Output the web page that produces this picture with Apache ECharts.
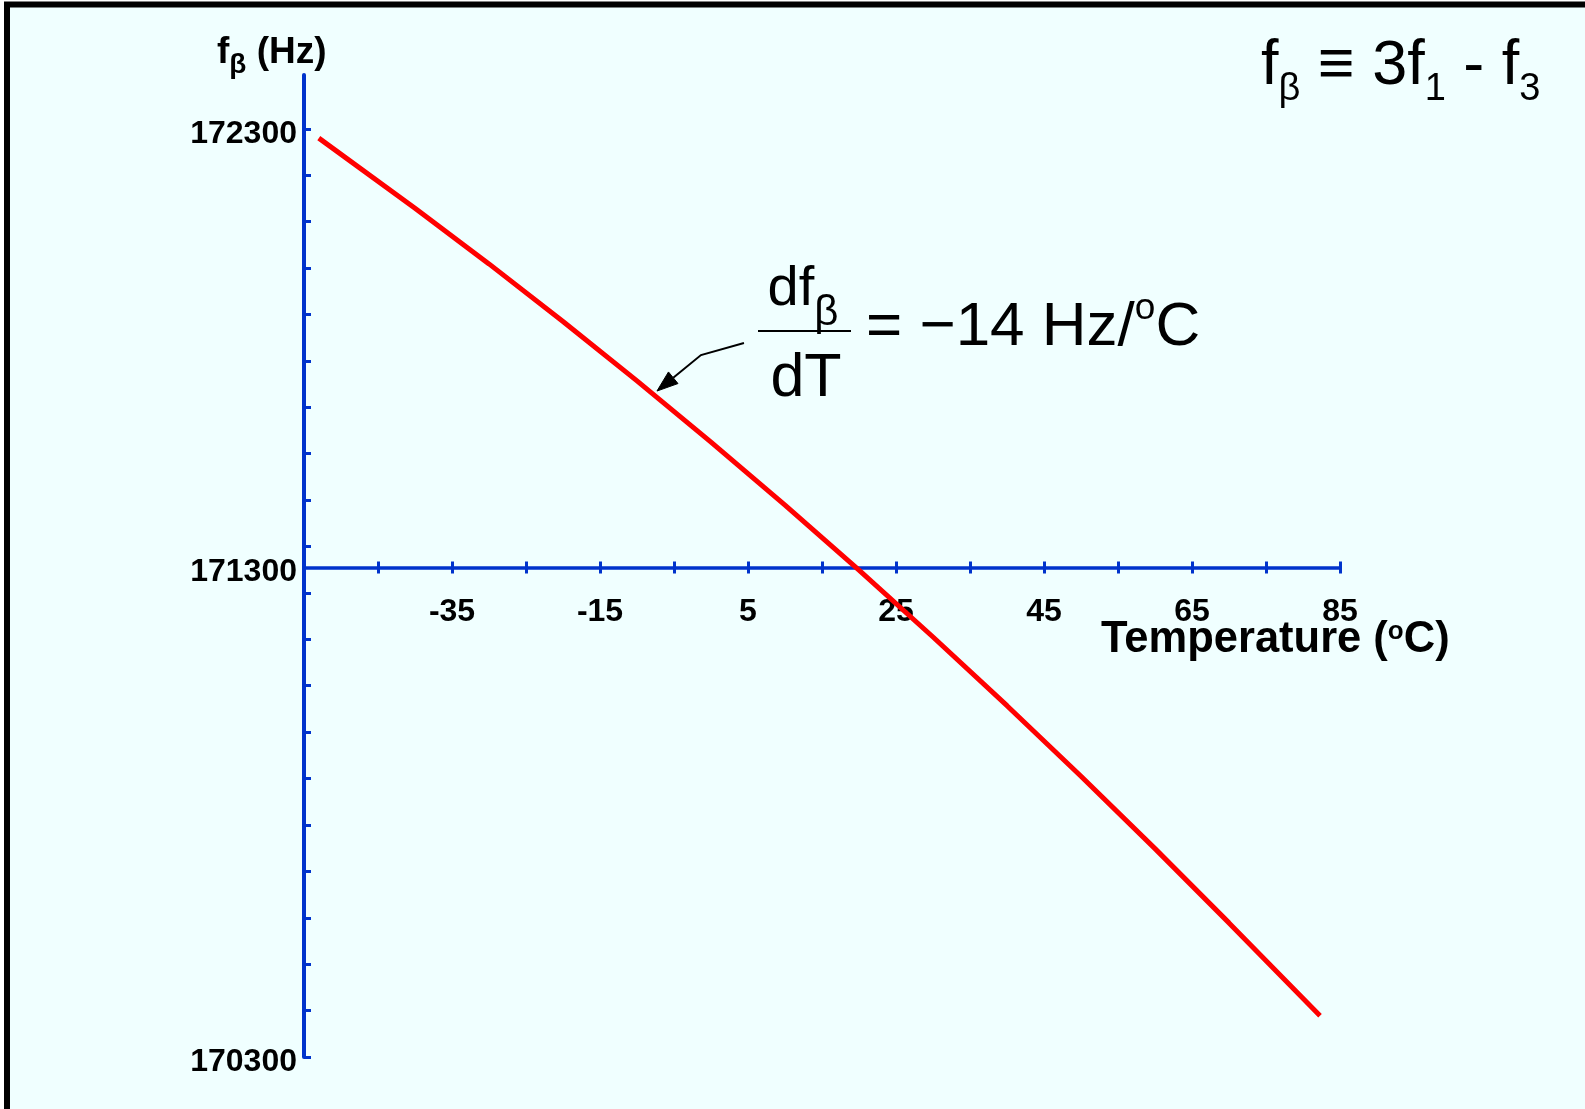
<!DOCTYPE html>
<html><head><meta charset="utf-8">
<script src="https://cdn.jsdelivr.net/npm/echarts@6/dist/echarts.min.js"></script>
<style>html,body{margin:0;padding:0;background:#fff}#c{width:1585px;height:1109px}</style>
</head><body><div id="c"></div>
<script>
// ---- data ----
const TEMPS  = [-53, -40, -30, -20, -10, 0, 10, 20, 30, 40, 50, 60, 70, 82.3];
const F_BETA = [172280, 172129, 172009, 171885, 171757, 171625, 171489, 171349, 171205, 171057, 170905, 170749, 170589, 170389];
const X_TICKS  = [-55, -45, -35, -25, -15, -5, 5, 15, 25, 35, 45, 55, 65, 75, 85];
const X_LABELS = [-35, -15, 5, 25, 45, 65, 85];
const Y_TICKS  = [170300, 170400, 170500, 170600, 170700, 170800, 170900, 171000, 171100, 171200,
                  171300, 171400, 171500, 171600, 171700, 171800, 171900, 172000, 172100, 172200, 172300];
const AXIS_CROSS = 171355;            // value where the temperature axis crosses
const Y_LABEL_VALUES = [170300, AXIS_CROSS, 172300];
const Y_LABEL_TEXT   = ['170300', '171300', '172300'];
const ARROW_TARGET = [-7.3, 171735];  // point of the curve the annotation arrow points to

const FONT = "'Liberation Sans', Arial, Helvetica, sans-serif";
const BLUE = '#0033cc';

const chart = echarts.init(document.getElementById('c'), null, {renderer: 'canvas'});

const xBase = {
  type: 'value', min: -55, max: 85, position: 'bottom', gridIndex: 0,
  splitLine: {show: false}
};

chart.setOption({
  backgroundColor: '#f0ffff',
  animation: false,
  textStyle: {fontFamily: FONT},
  grid: {left: 304, right: 245, top: 75, bottom: 52, outerBoundsMode: 'none', containLabel: false},
  xAxis: [
    Object.assign({}, xBase, {
      axisLine: {show: true, onZero: false, lineStyle: {color: BLUE, width: 3.5}},
      axisTick: {show: true, customValues: X_TICKS, length: 6, lineStyle: {color: BLUE, width: 3}},
      axisLabel: {show: true, customValues: X_LABELS, margin: 29, color: '#000',
                  fontSize: 32, fontWeight: 'bold', fontFamily: FONT}
    }),
    Object.assign({}, xBase, {
      axisLine: {show: false, onZero: false},
      axisTick: {show: true, inside: true, customValues: X_TICKS, length: 6, lineStyle: {color: BLUE, width: 3}},
      axisLabel: {show: false}
    })
  ],
  yAxis: {
    type: 'value', min: 170300, max: 172416,
    splitLine: {show: false},
    axisLine: {show: true, onZero: false, lineStyle: {color: BLUE, width: 4}},
    axisTick: {show: true, inside: true, customValues: Y_TICKS, length: 7, lineStyle: {color: BLUE, width: 3}},
    axisLabel: {
      show: true, customValues: Y_LABEL_VALUES, margin: 7, color: '#000',
      fontSize: 32, fontWeight: 'bold', fontFamily: FONT,
      rich: {a: {fontSize: 32, fontWeight: 'bold', fontFamily: FONT, color: '#000', lineHeight: 32, padding: [10, 0, 0, 0]}},
      formatter: function (v) {
        const i = Y_LABEL_VALUES.indexOf(v);
        return i >= 0 ? '{a|' + Y_LABEL_TEXT[i] + '}' : '';
      }
    }
  },
  series: [{
    type: 'line', xAxisIndex: 0, yAxisIndex: 0,
    data: TEMPS.map((t, i) => [t, F_BETA[i]]),
    showSymbol: false, smooth: false,
    lineStyle: {color: '#ff0000', width: 5},
    z: 5
  }]
});

// place the temperature axis at the crossing value
const yCross = chart.convertToPixel({yAxisIndex: 0}, AXIS_CROSS);
const yBottom = chart.convertToPixel({yAxisIndex: 0}, 170300);
const off = yCross - yBottom;
chart.setOption({xAxis: [{offset: off}, {offset: off}]});

// annotation arrow anchored on the curve
const tip = chart.convertToPixel({xAxisIndex: 0, yAxisIndex: 0}, ARROW_TARGET);
const bend = [tip[0] + 44, tip[1] - 36];
const start = [bend[0] + 43, bend[1] - 12];
const dx = tip[0] - bend[0], dy = tip[1] - bend[1];
const len = Math.sqrt(dx * dx + dy * dy);
const ux = dx / len, uy = dy / len;
const hl = 21, hw = 7.5;
const base = [tip[0] - ux * hl, tip[1] - uy * hl];
const head = [tip, [base[0] - uy * hw, base[1] + ux * hw], [base[0] + uy * hw, base[1] - ux * hw]];

function txt(x, y, text, rich, align) {
  return {
    type: 'text', z: 100,
    style: {x: x, y: y, text: text, rich: rich, align: align || 'left', verticalAlign: 'top', fill: '#000', fontFamily: FONT}
  };
}

const graphics = [
  // slide frame
  {type: 'rect', z: 90, shape: {x: 0, y: 0, width: 1585, height: 2}, style: {fill: '#fff'}},
  {type: 'rect', z: 90, shape: {x: 0, y: 0, width: 4, height: 1109}, style: {fill: '#fff'}},
  {type: 'line', z: 91, shape: {x1: 4, y1: 4.5, x2: 1585, y2: 4.5}, style: {stroke: '#000', lineWidth: 6}},
  {type: 'line', z: 91, shape: {x1: 7, y1: 2, x2: 7, y2: 1109}, style: {stroke: '#000', lineWidth: 6}},

  // y axis name  f_beta (Hz)
  txt(217, 34, '{m|f}{s|β}{m| (Hz)}', {
    m: {fontSize: 37, fontWeight: 'bold', lineHeight: 37, verticalAlign: 'top', fill: '#000', fontFamily: FONT},
    s: {fontSize: 28, fontWeight: 'bold', lineHeight: 28, padding: [17, 0, 0, 0], verticalAlign: 'top', fill: '#000', fontFamily: FONT}
  }),

  // x axis name  Temperature (°C)
  txt(1101, 618, '{m|Temperature (}{o|o}{m|C)}', {
    m: {fontSize: 43.5, fontWeight: 'bold', lineHeight: 43, verticalAlign: 'top', fill: '#000', fontFamily: FONT},
    o: {fontSize: 26, fontWeight: 'bold', lineHeight: 26, padding: [1, 0, 0, 0], verticalAlign: 'top', fill: '#000', fontFamily: FONT}
  }),

  // definition  f_beta ≡ 3f_1 - f_3
  txt(1261, 35, '{m|f}{s|β}{m| ≡ 3f}{s|1}{m| - f}{s|3}', {
    m: {fontSize: 63, lineHeight: 62, verticalAlign: 'top', fill: '#000', fontFamily: FONT},
    s: {fontSize: 38, lineHeight: 38, padding: [36, 0, 0, 0], verticalAlign: 'top', fill: '#000', fontFamily: FONT}
  }),

  // fraction numerator df_beta
  txt(803, 262, '{m|df}{s|β}', {
    m: {fontSize: 56, lineHeight: 56, verticalAlign: 'top', fill: '#000', fontFamily: FONT},
    s: {fontSize: 42, lineHeight: 42, padding: [30, 0, 0, 0], verticalAlign: 'top', fill: '#000', fontFamily: FONT}
  }, 'center'),
  // fraction bar
  {type: 'line', z: 100, shape: {x1: 758, y1: 331, x2: 851, y2: 331}, style: {stroke: '#000', lineWidth: 2}},
  // denominator dT
  {type: 'text', z: 100, style: {x: 806, y: 379, text: 'dT', align: 'center', verticalAlign: 'middle',
    fill: '#000', fontSize: 61, fontFamily: FONT}},
  // = −14 Hz/°C
  txt(866, 290, '{m|= −14 Hz/}{o|o}{m|C}', {
    m: {fontSize: 62, lineHeight: 62, padding: [7, 0, 0, 0], verticalAlign: 'top', fill: '#000', fontFamily: FONT},
    o: {fontSize: 37, lineHeight: 37, verticalAlign: 'top', fill: '#000', fontFamily: FONT}
  }),

  // arrow
  {type: 'polyline', z: 100, shape: {points: [start, bend, base]}, style: {stroke: '#000', lineWidth: 2, fill: null}},
  {type: 'polygon', z: 100, shape: {points: head}, style: {fill: '#000', stroke: '#000', lineWidth: 1}}
];

chart.setOption({graphic: graphics});
</script>
</body></html>
